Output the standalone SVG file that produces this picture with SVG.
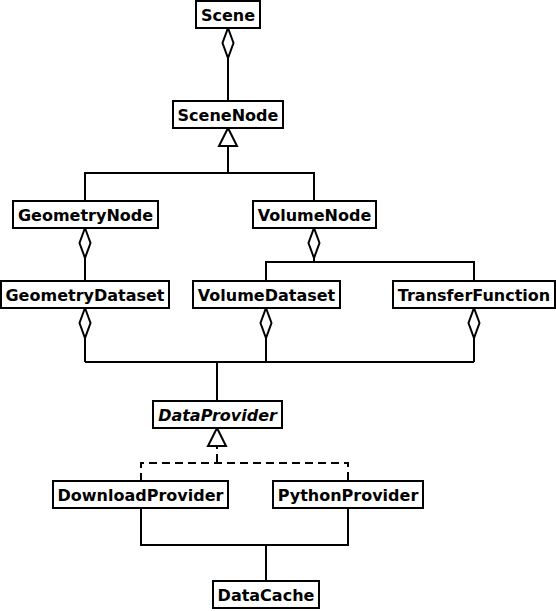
<svg xmlns="http://www.w3.org/2000/svg" width="556" height="611" viewBox="0 0 556 611">
<style>
.box{fill:#fff;stroke:#000;stroke-width:2}
.lbl{font-family:"DejaVu Sans","Liberation Sans",sans-serif;font-weight:bold;font-size:16px;text-anchor:middle;fill:#000}
.it{font-style:italic}
.c{fill:none;stroke:#000;stroke-width:2}
.dash{stroke-dasharray:8,5}
.agg{marker-start:url(#diamond)}
.inh{marker-start:url(#tri)}
</style>
<defs>
<marker id="diamond" viewBox="-1 -1 32 13" refX="0" refY="5.5" markerWidth="32" markerHeight="13" markerUnits="userSpaceOnUse" orient="auto" overflow="visible">
<path d="M0,5.5 L15,0 L30,5.5 L15,11 Z" fill="#fff" stroke="#000" stroke-width="2"/>
</marker>
<marker id="tri" viewBox="-1 -1 20 20" refX="0" refY="9" markerWidth="20" markerHeight="20" markerUnits="userSpaceOnUse" orient="auto" overflow="visible">
<path d="M0,9 L18,0 L18,18 Z" fill="#fff" stroke="#000" stroke-width="2"/>
</marker>
</defs>
<rect width="556" height="611" fill="#fff"/>
<g id="connectors">
<path class="c agg" d="M228,28 V101"/>
<path class="c inh" d="M228,128 V173"/>
<path class="c" d="M85,201 V173 H314 V201"/>
<path class="c agg" d="M85,228 V281"/>
<path class="c agg" d="M314,228 V262"/>
<path class="c" d="M266,281 V262 H474 V281"/>
<path class="c agg" d="M85,308 V362"/>
<path class="c agg" d="M266,308 V362"/>
<path class="c agg" d="M474,308 V362"/>
<path class="c" d="M85,362 H474"/>
<path class="c" d="M217,362 V401"/>
<path class="c dash inh" d="M217,428 V463"/>
<path class="c dash" d="M141,481 V463 H348 V481"/>
<path class="c" d="M141,508 V545 H348 V508"/>
<path class="c" d="M266,545 V581"/>
</g>
<g id="Scene"><rect class="box" x="196" y="1" width="64" height="27"/><text class="lbl" x="228" y="20.5">Scene</text></g>
<g id="SceneNode"><rect class="box" x="173" y="101" width="110" height="27"/><text class="lbl" x="228" y="120.5">SceneNode</text></g>
<g id="GeometryNode"><rect class="box" x="13" y="201" width="145" height="27"/><text class="lbl" x="85.5" y="220.5">GeometryNode</text></g>
<g id="VolumeNode"><rect class="box" x="253" y="201" width="123" height="27"/><text class="lbl" x="314.5" y="220.5">VolumeNode</text></g>
<g id="GeometryDataset"><rect class="box" x="1" y="281" width="168" height="27"/><text class="lbl" x="85" y="300.5">GeometryDataset</text></g>
<g id="VolumeDataset"><rect class="box" x="193" y="281" width="147" height="27"/><text class="lbl" x="266.5" y="300.5">VolumeDataset</text></g>
<g id="TransferFunction"><rect class="box" x="393" y="281" width="162" height="27"/><text class="lbl" x="474" y="300.5">TransferFunction</text></g>
<g id="DataProvider"><rect class="box" x="153" y="401" width="129" height="27"/><text class="lbl it" x="217.5" y="420.5">DataProvider</text></g>
<g id="DownloadProvider"><rect class="box" x="53" y="481" width="175" height="27"/><text class="lbl" x="140.5" y="500.5">DownloadProvider</text></g>
<g id="PythonProvider"><rect class="box" x="273" y="481" width="150" height="27"/><text class="lbl" x="348" y="500.5">PythonProvider</text></g>
<g id="DataCache"><rect class="box" x="213" y="581" width="106" height="27"/><text class="lbl" x="266" y="600.5">DataCache</text></g>
</svg>
